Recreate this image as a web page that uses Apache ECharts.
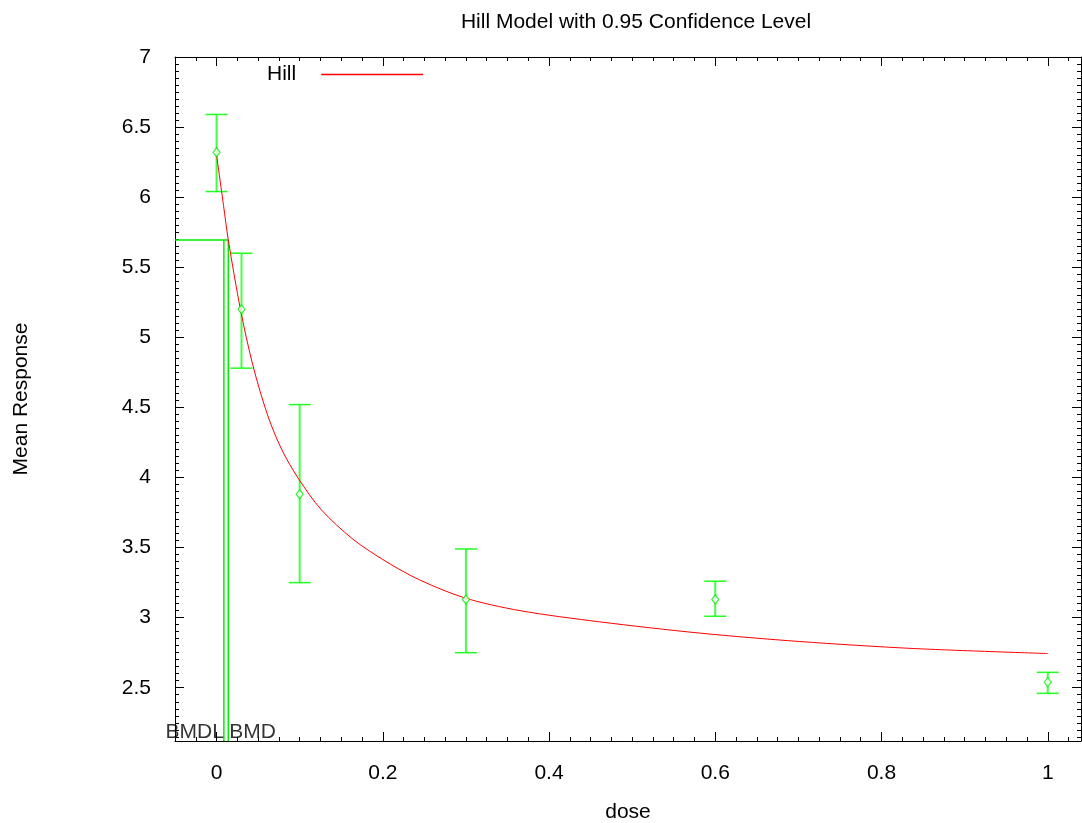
<!DOCTYPE html>
<html>
<head>
<meta charset="utf-8">
<script src="https://cdn.jsdelivr.net/npm/echarts@6/dist/echarts.min.js"></script>
<style>html,body{margin:0;padding:0;background:#fff}#c{width:1082px;height:823px}</style>
</head>
<body>
<div id="c"></div>
<script>
// ---- data ----
var doses = [0, 0.03, 0.1, 0.3, 0.6, 1.0];
var means = [6.32, 5.20, 3.88, 3.13, 3.13, 2.54];
var upper = [6.59, 5.60, 4.52, 3.49, 3.26, 2.61];
var lower = [6.04, 4.78, 3.25, 2.75, 3.01, 2.46];

var curveDose = [0, 0.0084, 0.0141, 0.0289, 0.0437, 0.0617, 0.0786, 0.0987, 0.126, 0.164, 0.204, 0.244, 0.299, 0.365, 0.461, 0.581, 0.701, 0.838, 1.0];
var curveResp = [6.30, 5.94, 5.695, 5.195, 4.80, 4.44, 4.197, 3.99, 3.77, 3.56, 3.40, 3.27, 3.14, 3.05, 2.97, 2.89, 2.83, 2.78, 2.744];

var bmdl = 0.0088;
var bmd = 0.0141;
var bmr = 5.695;

var xTicks = [0, 0.2, 0.4, 0.6, 0.8, 1];
var yTicks = [2.5, 3, 3.5, 4, 4.5, 5, 5.5, 6, 6.5, 7];
var xMin = -0.05, xMax = 1.04, yMin = 2.12, yMax = 7;

// minor tick positions
var xMinor = [];
for (var i = -2; i <= 41; i++) xMinor.push(Math.round(i * 25) / 1000);
var yMinor = [];
for (var j = 43; j <= 140; j++) yMinor.push(Math.round(j * 5) / 100);

var FONT = 'Liberation Sans, Arial, sans-serif';
var FS = 21;

function axisBase(extra) {
  var o = {
    type: 'value',
    splitLine: {show: false},
    axisLine: {show: true, onZero: false, lineStyle: {color: '#000', width: 1}},
    axisLabel: {show: false},
    axisTick: {show: true, inside: true, length: 9, lineStyle: {color: '#000', width: 1}}
  };
  for (var k in extra) o[k] = extra[k];
  return o;
}
var noLine = {show: false, onZero: false};

var xAxes = [
  axisBase({min: xMin, max: xMax, position: 'bottom',
    axisTick: {show: true, inside: true, length: 9, customValues: xTicks, lineStyle: {color: '#000'}},
    axisLabel: {show: true, customValues: xTicks, fontSize: FS, color: '#000', fontFamily: FONT, margin: 22},
    name: 'dose', nameLocation: 'middle', nameGap: 61,
    nameTextStyle: {fontSize: FS, color: '#000', fontFamily: FONT}}),
  axisBase({min: xMin, max: xMax, position: 'bottom', axisLine: noLine,
    axisTick: {show: true, inside: true, length: 4, customValues: xMinor, lineStyle: {color: '#000'}}}),
  axisBase({min: xMin, max: xMax, position: 'top',
    axisTick: {show: true, inside: true, length: 9, customValues: xTicks, lineStyle: {color: '#000'}}}),
  axisBase({min: xMin, max: xMax, position: 'top', axisLine: noLine,
    axisTick: {show: true, inside: true, length: 4, customValues: xMinor, lineStyle: {color: '#000'}}})
];
var yAxes = [
  axisBase({min: yMin, max: yMax, position: 'left',
    axisTick: {show: true, inside: true, length: 9, customValues: yTicks, lineStyle: {color: '#000'}},
    axisLabel: {show: true, customValues: yTicks, fontSize: FS, color: '#000', fontFamily: FONT, margin: 24},
    name: 'Mean Response', nameLocation: 'middle', nameGap: 143, nameRotate: 90,
    nameTextStyle: {fontSize: FS, color: '#000', fontFamily: FONT}}),
  axisBase({min: yMin, max: yMax, position: 'left', axisLine: noLine,
    axisTick: {show: true, inside: true, length: 4, customValues: yMinor, lineStyle: {color: '#000'}}}),
  axisBase({min: yMin, max: yMax, position: 'right',
    axisTick: {show: true, inside: true, length: 9, customValues: yTicks, lineStyle: {color: '#000'}}}),
  axisBase({min: yMin, max: yMax, position: 'right', axisLine: noLine,
    axisTick: {show: true, inside: true, length: 4, customValues: yMinor, lineStyle: {color: '#000'}}})
];

var errData = doses.map(function (d, i) { return [d, lower[i], upper[i]]; });
var ptData = doses.map(function (d, i) { return [d, means[i]]; });
var curveData = curveDose.map(function (d, i) { return [d, curveResp[i]]; });

var option = {
  backgroundColor: '#fff',
  animation: false,
  title: {
    text: 'Hill Model with 0.95 Confidence Level',
    left: 631, textAlign: 'center', top: 7,
    textStyle: {fontSize: FS, fontWeight: 'normal', color: '#000', fontFamily: FONT}
  },
  legend: {
    data: [{name: 'Hill', icon: 'rect'}],
    left: 262, top: 59, align: 'right',
    itemWidth: 102, itemHeight: 1.5,
    textStyle: {fontSize: FS, color: '#000', fontFamily: FONT, padding: [0, 20, 0, 0]}
  },
  grid: {left: 175, right: 1, top: 57, bottom: 82, containLabel: false, outerBoundsMode: 'none'},
  xAxis: xAxes,
  yAxis: yAxes,
  series: [
    {
      name: 'Hill', type: 'line', data: curveData, symbol: 'none',
      smooth: 0.3,
      lineStyle: {color: '#ff0000', width: 1}, itemStyle: {color: '#ff0000'}, z: 5
    },
    {
      name: 'err', type: 'custom', data: errData,
      renderItem: function (params, api) {
        var x = api.value(0);
        var lo = api.coord([x, api.value(1)]);
        var hi = api.coord([x, api.value(2)]);
        var hw = 11;
        return {
          type: 'group',
          children: [
            {type: 'line', shape: {x1: lo[0], y1: lo[1], x2: hi[0], y2: hi[1]}, style: {stroke: '#44ff44', lineWidth: 2}},
            {type: 'line', shape: {x1: lo[0] - hw, y1: lo[1], x2: lo[0] + hw, y2: lo[1]}, style: {stroke: '#22ff22', lineWidth: 1.5}},
            {type: 'line', shape: {x1: hi[0] - hw, y1: hi[1], x2: hi[0] + hw, y2: hi[1]}, style: {stroke: '#22ff22', lineWidth: 1.5}}
          ]
        };
      },
      z: 3
    },
    {
      name: 'mean', type: 'scatter', data: ptData, symbol: 'diamond', symbolSize: [7, 9],
      itemStyle: {color: '#ffffff', borderColor: '#00ee00', borderWidth: 1.2}, z: 6
    },
    {
      name: 'bmdline', type: 'line', symbol: 'none',
      data: [[xMin, bmr], [bmd, bmr], [bmd, yMin]],
      lineStyle: {color: '#00ee00', width: 1.5}, z: 4
    },
    {
      name: 'bmdlline', type: 'line', symbol: 'none',
      data: [[bmdl, bmr], [bmdl, yMin]],
      lineStyle: {color: '#00ee00', width: 1.5}, z: 4
    },
    {
      name: 'bmdlabels', type: 'scatter', symbolSize: 0, silent: true,
      data: [
        {value: [bmdl, 2.185], label: {show: true, position: 'left', distance: 0, formatter: 'BMDL'}},
        {value: [bmd, 2.185], label: {show: true, position: 'right', distance: 1, formatter: 'BMD'}}
      ],
      label: {fontSize: FS, color: '#000', fontFamily: FONT},
      z: 7
    }
  ]
};

var chart = echarts.init(document.getElementById('c'), null, {renderer: 'canvas'});
chart.setOption(option);
</script>
</body>
</html>
